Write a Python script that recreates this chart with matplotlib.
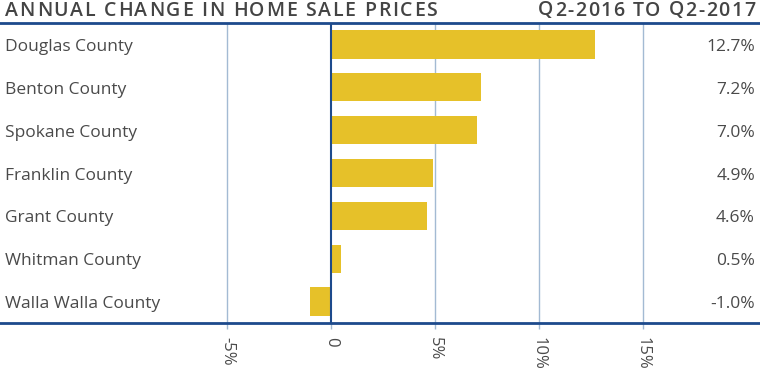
import matplotlib.pyplot as plt
from matplotlib.transforms import offset_copy

counties = ["Douglas County", "Benton County", "Spokane County", "Franklin County",
            "Grant County", "Whitman County", "Walla Walla County"]
changes = [12.7, 7.2, 7.0, 4.9, 4.6, 0.5, -1.0]
ticks = [-5, 0, 5, 10, 15]
tick_labels = ["-5%", "0", "5%", "10%", "15%"]

plt.rcParams['font.family'] = ['Open Sans', 'DejaVu Sans']

gold = "#e6c129"
navy = "#1d4a8c"
grid = "#a3bad3"
text_c = "#4a4a4a"
title_c = "#444444"

W, H = 760, 382
px_per_pct = 20.8
x0 = 331

fig = plt.figure(figsize=(7.6, 3.82), dpi=100)
ax = fig.add_axes([0, (H - 323) / H, 1, 300 / H])
ax.set_xlim(-x0 / px_per_pct, (W - x0) / px_per_pct)
ax.set_ylim(len(counties) - 0.5, -0.5)

for t in ticks:
    if t != 0:
        ax.axvline(t, color=grid, lw=1.0, zorder=0)
ax.axvline(0, color=navy, lw=1.5, zorder=3)
ax.barh(range(len(counties)), changes, height=0.66, color=gold, zorder=2)

# row labels, nudged down a little so they sit on the bar centre
trans_left = offset_copy(ax.get_yaxis_transform(), fig=fig, y=-2.5, units='dots')
for i, (name, val) in enumerate(zip(counties, changes)):
    ax.text(5 / W, i, name, transform=trans_left, fontsize=12.5, color=text_c,
            va='center', ha='left')
    ax.text(755 / W, i, f"{val:.1f}%", transform=trans_left, fontsize=12.5,
            color=text_c, va='center', ha='right')

for side in ['left', 'right']:
    ax.spines[side].set_visible(False)
for side in ['top', 'bottom']:
    ax.spines[side].set_color(navy)
    ax.spines[side].set_linewidth(2)
ax.set_yticks([])
ax.set_xticks(ticks)
ax.set_xticklabels(tick_labels, rotation=270, fontsize=12, color=text_c)
ax.tick_params(axis='x', length=4, width=1, color=grid, pad=6)
ax.get_xticklines()[2].set_color(navy)


def spaced_text(s, x_px, y_px, spacing, align='left', **kw):
    """Draw s one character at a time so the letters get extra tracking."""
    renderer = fig.canvas.get_renderer()
    widths = []
    for ch in s:
        t = fig.text(0, 0, ch, **kw)
        widths.append(t.get_window_extent(renderer).width)
        t.remove()
    total = sum(widths) + spacing * (len(s) - 1)
    x = x_px if align == 'left' else x_px - total
    for ch, w in zip(s, widths):
        fig.text(x / W, 1 - y_px / H, ch, ha='left', va='center', **kw)
        x += w + spacing


title_kw = dict(fontsize=14, color=title_c, fontweight='semibold')
spaced_text("ANNUAL CHANGE IN HOME SALE PRICES", 5, 10.5, 1.7, **title_kw)
spaced_text("Q2-2016 TO Q2-2017", 755, 10.5, 1.5, align='right', **title_kw)

fig.savefig("out.png", dpi=100)
